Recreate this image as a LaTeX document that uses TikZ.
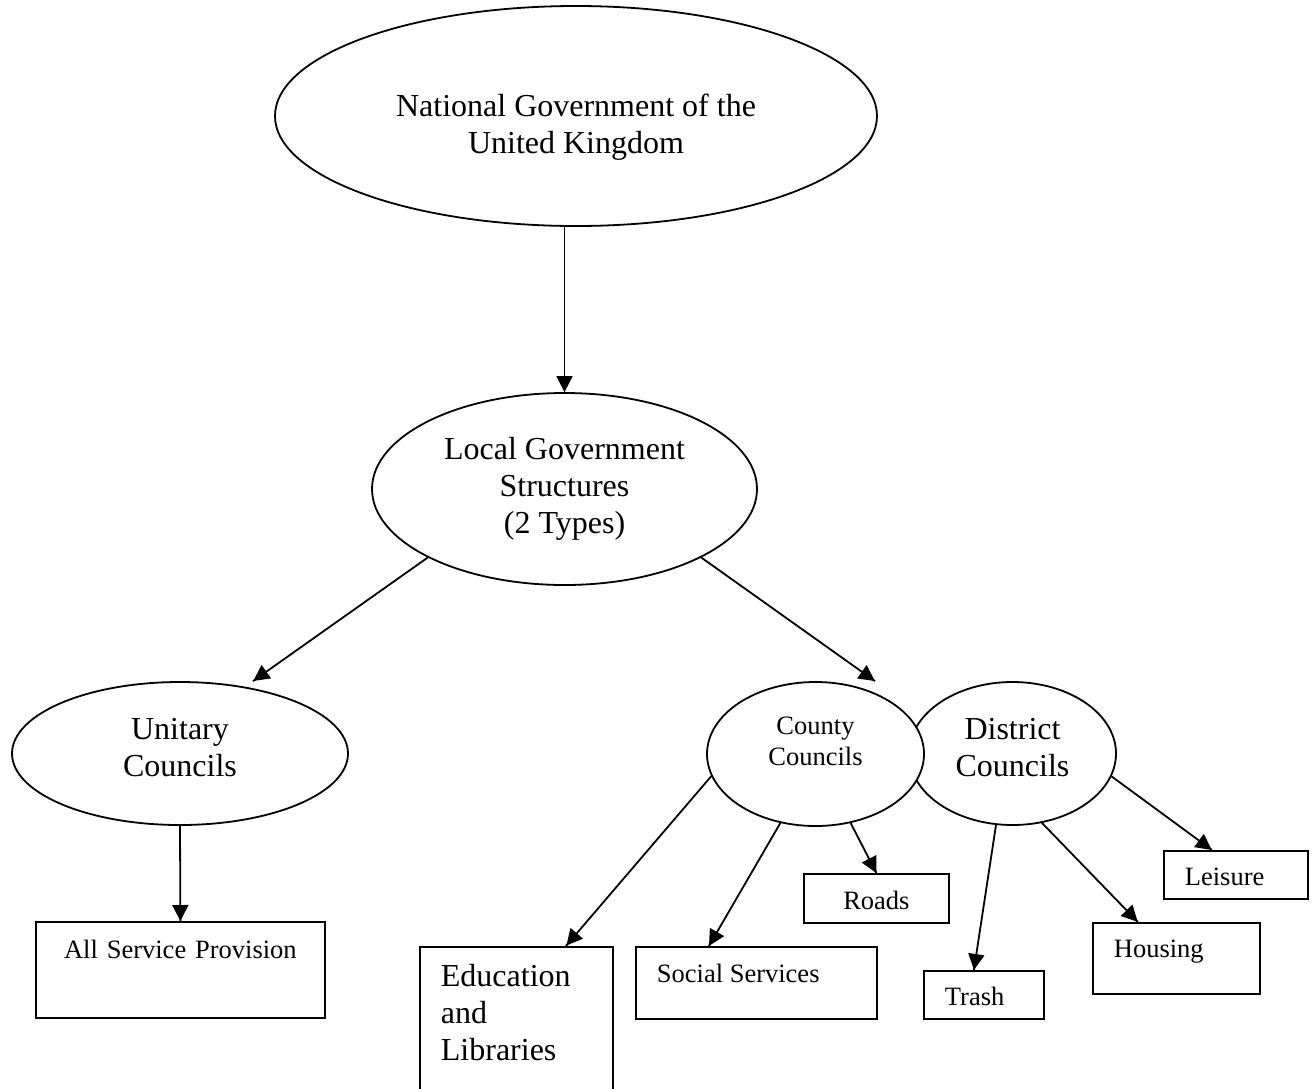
\documentclass[tikz,border=0pt]{standalone}
\usepackage{fontspec}
\setmainfont{Liberation Serif}
\usetikzlibrary{arrows.meta}
\usetikzlibrary{decorations.markings}
\usetikzlibrary{shapes.geometric}
\tikzset{->/.style = {decoration={markings,
                                  mark=at position 1 with {\arrow{Triangle[length=8pt, width=8pt]}}},
                      postaction={decorate}}}
\tikzset{ell/.style = {draw, ellipse, fill=white, inner sep=0, align=center,
                       font=\fontsize{16}{18.5}\selectfont}}
\tikzset{box/.style = {draw, rectangle, anchor=north west, inner xsep=10.5pt, inner ysep=0,
                       align=flush left, text height=18pt, font=\fontsize{13.25}{15.5}\selectfont}}

\begin{document}
\begin{tikzpicture}[x=0.5pt, y=-0.5pt, line width=0.9pt]
      \useasboundingbox (0,0) rectangle (1316,1088);
      \clip (0,0) rectangle (1316,1088);
      \node [ell, minimum width=301pt, minimum height=110pt, text height=40.5pt] (nat) at (576,116)
        {National Government of the\\United Kingdom};
      \node [ell, minimum width=192.5pt, minimum height=96pt] (loc) at (564.5,489)
        {Local Government\\Structures\\(2 Types)};
      \node [ell, minimum width=168pt, minimum height=71.5pt, text depth=5.9pt] (uni) at (180,753.5)
        {Unitary\\Councils};
      \node [ell, minimum width=103.5pt, minimum height=71.5pt, text depth=5.9pt] (dis) at (1012.5,753.5)
        {District\\Councils};
      \node [ell, minimum width=108.5pt, minimum height=72pt, text depth=12.5pt,
             font=\fontsize{13.25}{15.5}\selectfont] (cty) at (815.5,754) {County\\Councils};
      \node [box, align=center, text width=123.5pt, text height=18.5pt, text depth=29.5pt] (asp) at (35,921)
        {All Service Provision};
      \node [box, font=\fontsize{16}{18.5}\selectfont, text width=75.5pt, text height=20pt, text depth=57pt]
        (edu) at (419,946) {Education and Libraries};
      \node [box, text width=99.5pt, text depth=18pt] (soc) at (635,946) {Social Services};
      \node [box, align=center, text width=51.5pt, text depth=6.5pt] (roads) at (803,873) {Roads};
      \node [box, text width=39pt, text height=17.5pt, text depth=6.5pt] (trash) at (923,970) {Trash};
      \node [box, text width=62.5pt, text height=17.5pt, text depth=18pt] (housing) at (1092,922) {Housing};
      \node [box, text width=51pt, text height=17.5pt, text depth=6.5pt] (leisure) at (1163,850) {Leisure};
      \draw [->] (nat.south -| loc.north) -- (loc.north);
      \draw [->] (loc.south west) -- ([xshift=36.5pt]uni.north);
      \draw [->] (loc.south east) -- ([xshift=29.75pt]cty.north);
      \draw [->] (uni.south) -- (asp.north);
      \draw [->] (cty.192) -- ([xshift=24.75pt]edu.north);
      \draw [->] (cty.243) -- ([xshift=-23.75pt]soc.north);
      \draw [->] (cty.297) -- (roads.north);
      \draw [->] (dis.257) -- ([xshift=-5pt]trash.north);
      \draw [->] (dis.293) -- ([xshift=-19.25pt]housing.north);
      \draw [->] (dis.347) -- ([xshift=-12pt]leisure.north);
    \end{tikzpicture}
\end{document}
